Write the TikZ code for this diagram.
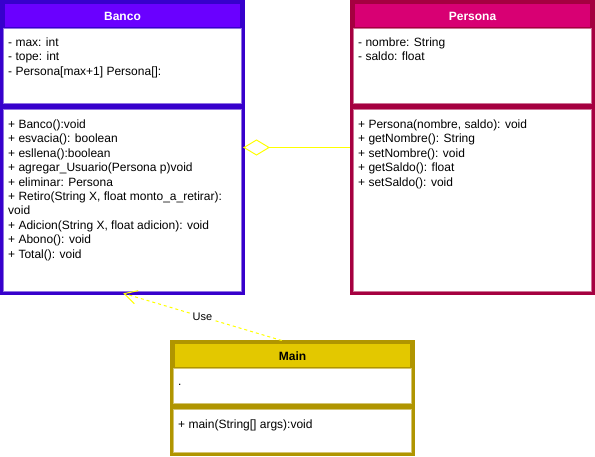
\documentclass[tikz,border=0pt]{standalone}
\usepackage{fontspec}
\setmainfont{Liberation Sans}
\usetikzlibrary{arrows.meta}
\definecolor{bancoFill}{HTML}{6A00FF}
\definecolor{bancoLine}{HTML}{3700CC}
\definecolor{persFill}{HTML}{D80073}
\definecolor{persLine}{HTML}{A50040}
\definecolor{mainFill}{HTML}{E3C800}
\definecolor{mainLine}{HTML}{B09500}
\definecolor{edgeYellow}{HTML}{FFFF00}
\tikzset{
  txt/.style={anchor=north west,inner sep=0pt,align=left,font=\fontsize{12}{14.4}\selectfont},
  hdr/.style={anchor=base,inner sep=0pt,font=\fontsize{12}{14.4}\selectfont\bfseries},
  lbl/.style={inner sep=1pt,fill=white,font=\fontsize{11}{13}\selectfont},
}
% class box: #1 x offset, #2 y offset, #3 height, #4 attr bottom, #5 fill, #6 line
\newcommand{\umlbox}[6]{%
  \begin{scope}[shift={(#1,#2)}]
    \fill[#6] (0,0) rectangle (245,28);
    \fill[#5] (5,4) rectangle (240,26.5);
    \draw[#6!55!white,fill=white,line width=0.8pt] (3.4,28) rectangle (241.6,{#4});
    \draw[#6!55!white,fill=white,line width=0.8pt] (3.4,{#4+6}) rectangle (241.6,{#3-3.4});
    \draw[#6,line width=5pt] (0,{#4+3}) -- (245,{#4+3});
    \draw[#6,line width=3pt] (1.5,1.5) rectangle (243.5,{#3-1.5});
  \end{scope}}
\begin{document}
\begin{tikzpicture}[x=1pt,y=-1pt]
\useasboundingbox (0,0) rectangle (595,456);
\fill[white] (0,0) rectangle (595,456);
% Banco
\umlbox{0}{0}{295}{103}{bancoFill}{bancoLine}
\node[hdr,text=white] (bancoH) at (122.5,20.5) {Banco};
\node[txt] (bancoA) at (8,36) {\strut- max: int\\- tope: int\\- Persona[max+1] Persona[]:};
\node[txt] (bancoM) at (8,118.2) {\strut+ Banco():void\\+ esvacia(): boolean\\+ esllena():boolean\\+ agregar\_Usuario(Persona p)void\\+ eliminar: Persona\\+ Retiro(String X, float monto\_a\_retirar):\\void\\+ Adicion(String X, float adicion): void\\+ Abono(): void\\+ Total(): void};
% Persona
\umlbox{350}{0}{295}{103}{persFill}{persLine}
\node[hdr,text=white] (persH) at (472.5,20.5) {Persona};
\node[txt] (persA) at (358,36) {\strut- nombre: String\\- saldo: float};
\node[txt] (persM) at (358,118.2) {\strut+ Persona(nombre, saldo): void\\+ getNombre(): String\\+ setNombre(): void\\+ getSaldo(): float\\+ setSaldo(): void};
% Main
\umlbox{170}{340}{116}{63.5}{mainFill}{mainLine}
\node[hdr,text=black] (mainH) at (292.5,360.5) {Main};
\node[txt] (mainA) at (178,375.4) {\strut.};
\node[txt] (mainM) at (178,417.9) {\strut+ main(String[] args):void};
% anchor coordinates for edges
\coordinate (bancoR) at (244,147.5);
\coordinate (persL) at (350,147.5);
\coordinate (bancoB) at (123.3,293.3);
\coordinate (mainT) at (281.7,340.5);
% aggregation
\draw[edgeYellow,line width=1pt,fill=white] (bancoR) -- ++(12.5,-7.5) -- ++(12.5,7.5) coordinate (dEnd) -- ++(-12.5,7.5) -- cycle;
\draw[edgeYellow,line width=1pt] (dEnd) -- (persL);
% use dependency
\draw[edgeYellow,line width=1pt,dash pattern=on 3pt off 3pt,-{Straight Barb[length=12.5pt,width=13.6pt]}] (mainT) -- node[lbl,text=black] (useL) {Use} (bancoB);
\end{tikzpicture}
\end{document}
